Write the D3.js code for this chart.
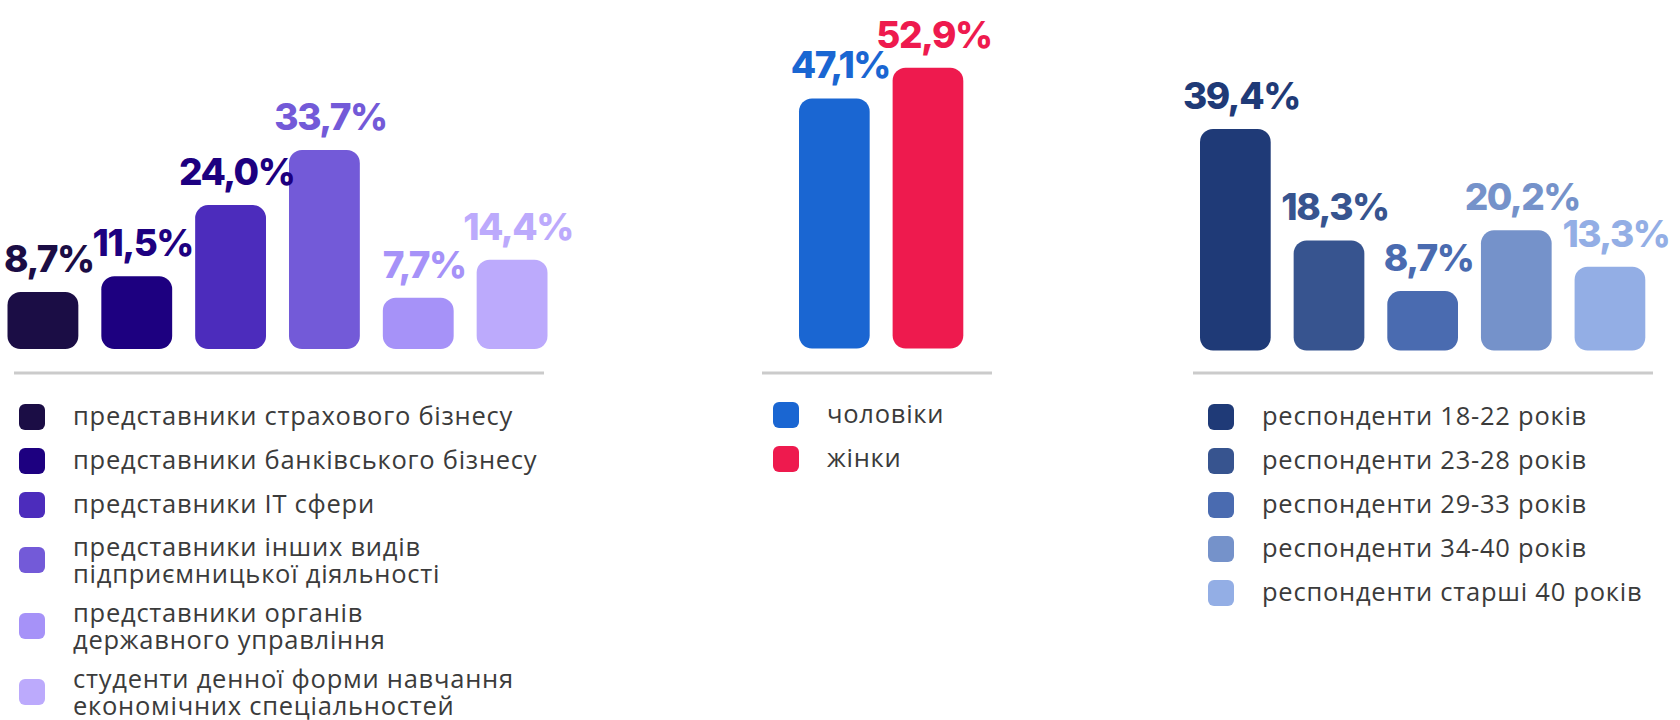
<!doctype html>
<html>
<head>
<meta charset="utf-8">
<script src="https://d3js.org/d3.v7.min.js"></script>
<style>
  body { margin: 0; background: #fff; }
  .val { font-family: Inter, "Noto Sans", sans-serif; font-weight: 800; font-size: 37px; letter-spacing: -1.5px; }
  .leg { font-family: "Open Sans", "Noto Sans", sans-serif; font-size: 25.5px; letter-spacing: 0.75px; fill: #3b3b3b; }
</style>
</head>
<body>
<svg width="1680" height="720"></svg>
<script>
// data
var jobCats = [
  "представники страхового бізнесу",
  "представники банківського бізнесу",
  "представники IT сфери",
  "представники інших видів\nпідприємницької діяльності",
  "представники органів\nдержавного управління",
  "студенти денної форми навчання\nекономічних спеціальностей"
];
var jobValues = [8.7, 11.5, 24.0, 33.7, 7.7, 14.4];
var jobColors = ["#1b0d45", "#1d0080", "#4c2cbc", "#735ad8", "#a692f8", "#bcaafc"];
var jobLabelColors = ["#1b0d45", "#1d0080", "#1d0080", "#735ad8", "#a692f8", "#bcaafc"];

var genderCats = ["чоловіки", "жінки"];
var genderValues = [47.1, 52.9];
var genderColors = ["#1a66d2", "#ee1a4e"];

var ageCats = [
  "респонденти 18-22 років",
  "респонденти 23-28 років",
  "респонденти 29-33 років",
  "респонденти 34-40 років",
  "респонденти старші 40 років"
];
var ageValues = [39.4, 18.3, 8.7, 20.2, 13.3];
var ageColors = ["#1f3a77", "#37548f", "#4a6bb0", "#7592ca", "#93aee5"];

var svg = d3.select("svg");
var fmt = function(v) { return v.toFixed(1).replace(".", ",") + "%"; };

function panel(cfg) {
  var x = d3.scaleBand()
    .domain(d3.range(cfg.values.length))
    .range(cfg.xRange)
    .paddingInner(0.245)
    .paddingOuter(0);
  var y = d3.scaleLinear().domain(cfg.yDomain).range(cfg.yRange);
  var g = svg.append("g");

  g.selectAll("rect.bar")
    .data(cfg.values)
    .enter()
    .append("rect")
    .attr("class", "bar")
    .attr("x", function(d, i) { return x(i); })
    .attr("y", function(d) { return y(d); })
    .attr("width", x.bandwidth())
    .attr("height", function(d) { return cfg.base - y(d); })
    .attr("rx", 13)
    .style("fill", function(d, i) { return cfg.colors[i]; });

  g.selectAll("text.val")
    .data(cfg.values)
    .enter()
    .append("text")
    .attr("class", "val")
    .attr("x", function(d, i) { return x(i) + x.bandwidth() / 2 + 6; })
    .attr("y", function(d) { return y(d) - 20; })
    .attr("text-anchor", "middle")
    .style("fill", function(d, i) { return cfg.labelColors[i]; })
    .text(fmt);

  // separator
  g.append("line")
    .attr("x1", cfg.sep[0]).attr("x2", cfg.sep[1])
    .attr("y1", 373).attr("y2", 373)
    .style("stroke", "#cbcbcb")
    .style("stroke-width", 3);

  // legend
  var cy = cfg.legTop;
  var prevH = 0;
  cfg.cats.forEach(function(c, i) {
    var lines = c.split("\n");
    var h = lines.length > 1 ? 66 : 44;
    if (i > 0) cy += prevH / 2 + h / 2;
    prevH = h;
    g.append("rect")
      .attr("x", cfg.legX).attr("y", cy - 13)
      .attr("width", 26).attr("height", 26)
      .attr("rx", 6)
      .style("fill", cfg.colors[i]);
    var t = g.append("text")
      .attr("class", "leg")
      .attr("x", cfg.legX + 54)
      .attr("y", lines.length > 1 ? cy - 4 : cy + 8);
    lines.forEach(function(l, j) {
      t.append("tspan")
        .attr("x", cfg.legX + 54)
        .attr("dy", j === 0 ? 0 : 26.5)
        .text(l);
    });
  });
}

panel({
  values: jobValues, colors: jobColors, labelColors: jobLabelColors, cats: jobCats,
  xRange: [7.5, 547.5], base: 349, yDomain: [0, 33.7], yRange: [341.5, 150],
  sep: [14, 544], legX: 19, legTop: 417
});

panel({
  values: genderValues, colors: genderColors, labelColors: genderColors, cats: genderCats,
  xRange: [799, 963.3], base: 348.5, yDomain: [0, 52.9], yRange: [348.5, 67.7],
  sep: [762, 992], legX: 773, legTop: 415
});

panel({
  values: ageValues, colors: ageColors, labelColors: ageColors, cats: ageCats,
  xRange: [1200, 1645.3], base: 350.5, yDomain: [0, 39.4], yRange: [337, 129],
  sep: [1193, 1653], legX: 1208, legTop: 417
});
</script>
</body>
</html>
